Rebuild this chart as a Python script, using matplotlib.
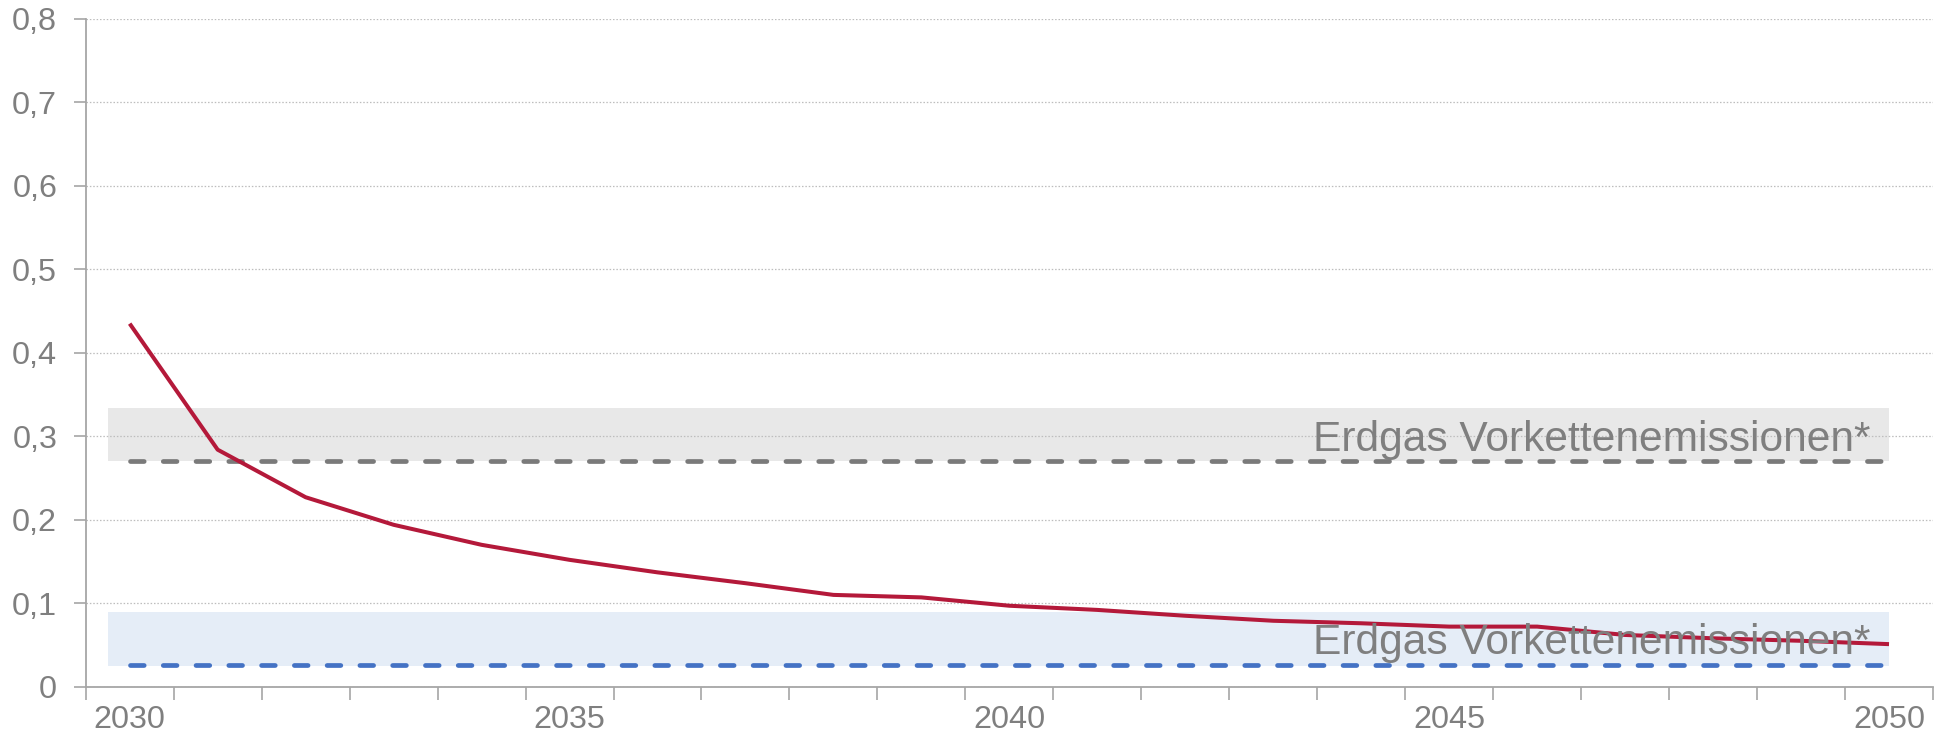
import numpy as np
import matplotlib.pyplot as plt
from matplotlib.ticker import FixedLocator

plt.rcParams['font.family'] = ['Liberation Sans', 'DejaVu Sans']

# Daten
jahre = list(range(2030, 2051))
emissionen = [0.435, 0.284, 0.227, 0.194, 0.170, 0.152, 0.137, 0.124, 0.110, 0.107,
              0.097, 0.092, 0.085, 0.079, 0.076, 0.072, 0.072, 0.062, 0.058, 0.055, 0.051]
grau_band = (0.270, 0.334)
blau_band = (0.025, 0.090)
grau_linie = 0.270
blau_linie = 0.026
label_text = "Erdgas Vorkettenemissionen*"
y_ticks = [0, 0.1, 0.2, 0.3, 0.4, 0.5, 0.6, 0.7, 0.8]

textfarbe = '#7f7f7f'
achsenfarbe = '#a6a6a6'

fig = plt.figure(figsize=(19.46, 7.41), dpi=100)
ax = fig.add_axes([85.7 / 1946, 1 - 686.7 / 741, (1933 - 85.7) / 1946, (686.7 - 19) / 741])

x = np.arange(len(jahre))

# Bänder
ax.fill_between([-0.25, len(jahre) - 1], grau_band[0], grau_band[1], color='#e8e8e8', lw=0, zorder=0)
ax.fill_between([-0.25, len(jahre) - 1], blau_band[0], blau_band[1], color='#e5edf7', lw=0, zorder=0)

# gestrichelte Linien
for wert, farbe in [(grau_linie, '#7a7a7a'), (blau_linie, '#4472c4')]:
    l, = ax.plot([0, len(jahre) - 1], [wert, wert], color=farbe, lw=3.4, zorder=2)
    l.set_dashes((2.9, 4.04))
    l.set_dash_capstyle('round')

ax.plot(x, emissionen, color='#b4193a', lw=2.9, zorder=3, solid_capstyle='butt')

for y_text in [0.2826, 0.0388]:
    ax.text(19.79, y_text, label_text, ha='right', va='baseline', fontsize=30.6,
            color=textfarbe, zorder=5)

ax.set_xlim(-0.5, len(jahre) - 0.5)
ax.set_ylim(0, 0.8)

# x-Achse: Striche zwischen Kategorien, Beschriftung alle 5 Jahre
ax.xaxis.set_major_locator(FixedLocator(np.arange(-0.5, len(jahre), 1.0)))
ax.set_xticklabels([])
pos = [i for i, j in enumerate(jahre) if j % 5 == 0]
ax.xaxis.set_minor_locator(FixedLocator(pos))
ax.set_xticklabels([str(jahre[i]) for i in pos], minor=True)
ax.tick_params(axis='x', which='major', length=9, width=1.2, color=achsenfarbe)
ax.tick_params(axis='x', which='minor', length=0, pad=13, labelsize=23.3, labelcolor=textfarbe)

ax.set_yticks(y_ticks)
ax.set_yticklabels(['0' if v == 0 else f"{v:.1f}".replace('.', ',') for v in y_ticks])
ax.tick_params(axis='y', length=9, width=1.2, color=achsenfarbe, pad=11.5,
               labelsize=23.3, labelcolor=textfarbe)

ax.yaxis.grid(True, linestyle=(0, (1.2, 1.5)), color='#bdbdbd', lw=0.9)
ax.set_axisbelow(True)

for s in ['top', 'right']:
    ax.spines[s].set_visible(False)
for s in ['left', 'bottom']:
    ax.spines[s].set_color(achsenfarbe)
    ax.spines[s].set_linewidth(1.3)

fig.savefig('out.png', dpi=100)
